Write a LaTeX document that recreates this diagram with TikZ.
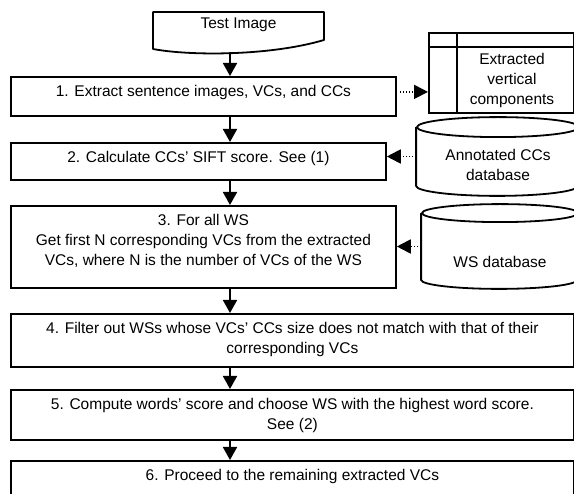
\documentclass[tikz,border=0pt]{standalone}
\usepackage{fontspec}
\setmainfont{Liberation Sans}
\usetikzlibrary{arrows.meta}

\begin{document}
\begin{tikzpicture}[x=1pt,y=-1pt,line width=1.8pt,
		font=\fontsize{15.5pt}{20pt}\selectfont,
		stepbox/.style={draw,anchor=north west,inner sep=0pt},
		steptext/.style={anchor=north,align=center,inner sep=0pt,yshift=-8pt},
		store/.style={minimum width=#1,inner sep=0pt},
		flow/.style={-{Triangle[length=13pt,width=14pt]}},
		feed/.style={-{Triangle[length=14pt,width=14pt]},dash pattern=on 1.5pt off 1.5pt}]
		\useasboundingbox (0,0) rectangle (574,494);
		\clip (0,0) rectangle (574,494);
		\draw[line join=round] (153,49) -- (153,12) -- (324,12) -- (324,40) .. controls (270,56) and (190,56) .. (153,49) -- cycle;
		\node (img) at (238.5,25) {Test Image};
		\coordinate (spine) at (230,52.5);
		\node[stepbox,minimum width=385pt,minimum height=39pt] (s1) at (10,76) {};
		\node[stepbox,minimum width=375pt,minimum height=37pt] (s2) at (10,142) {};
		\node[stepbox,minimum width=385pt,minimum height=82pt] (s3) at (10,205) {};
		\node[stepbox,minimum width=563pt,minimum height=53pt] (s4) at (10,313) {};
		\node[stepbox,minimum width=563pt,minimum height=50pt] (s5) at (10,389) {};
		\node[stepbox,minimum width=563pt,minimum height=50pt] (s6) at (10,460) {};
		\node[steptext] (t1) at (s1.north) {1. Extract sentence images, VCs, and CCs};
		\node[steptext] (t2) at (s2.north) {2. Calculate CCs' SIFT score. See (1)};
		\node[steptext] (t3) at (s3.north) {3. For all WS\\Get first N corresponding VCs from the extracted\\VCs, where N is the number of VCs of the WS};
		\node[steptext] (t4) at (s4.north) {4. Filter out WSs whose VCs' CCs size does not match with that of their\\corresponding VCs};
		\node[steptext] (t5) at (s5.north) {5. Compute words' score and choose WS with the highest word score.\\See (2)};
		\node[steptext] (t6) at (s6.north) {6. Proceed to the remaining extracted VCs};
		\draw[flow] (spine) -- (spine |- s1.north);
		\foreach \a/\b in {s1/s2,s2/s3,s3/s4,s4/s5,s5/s6}
			\draw[flow] (spine |- \a.south) -- (spine |- \b.north);
		\node[stepbox,minimum width=145pt,minimum height=80pt] (vcs) at (428,32) {};
		\draw ([yshift=-15pt]vcs.north west) -- ([yshift=-15pt]vcs.north east);
		\draw ([xshift=29pt]vcs.north west) -- ([xshift=29pt]vcs.south west);
		\node[align=center,inner sep=0pt] (vcstext) at (512,80) {Extracted\\vertical\\components};
		\coordinate (vcsin) at ([yshift=-19pt]vcs.west);
		\draw[feed,shorten <=3pt] (vcsin -| s1.east) -- (vcsin);
		\node[store=162pt,minimum height=77pt] (ccdb) at (498,156.5) {};
		\draw ([yshift=-10pt]ccdb.north) ellipse (81pt and 10pt);
		\draw ([yshift=-10pt]ccdb.north west) -- ([yshift=10pt]ccdb.south west) arc (180:360:81pt and 10pt) -- ([yshift=-10pt]ccdb.north east);
		\node[align=center,inner sep=0pt] (cctext) at ([yshift=-8pt]ccdb.center) {Annotated CCs\\database};
		\node[store=156pt,minimum height=83pt] (wsdb) at (500,246.5) {};
		\draw ([yshift=-9pt]wsdb.north) ellipse (78pt and 9pt);
		\draw ([yshift=-9pt]wsdb.north west) -- ([yshift=9pt]wsdb.south west) arc (180:360:78pt and 9pt) -- ([yshift=-9pt]wsdb.north east);
		\node[inner sep=0pt] (wstext) at ([yshift=-15pt]wsdb.center) {WS database};
		\draw[feed] (ccdb.west) -- (ccdb.west -| s2.east);
		\draw[feed] (wsdb.west) -- (wsdb.west -| s3.east);
	\end{tikzpicture}
\end{document}
